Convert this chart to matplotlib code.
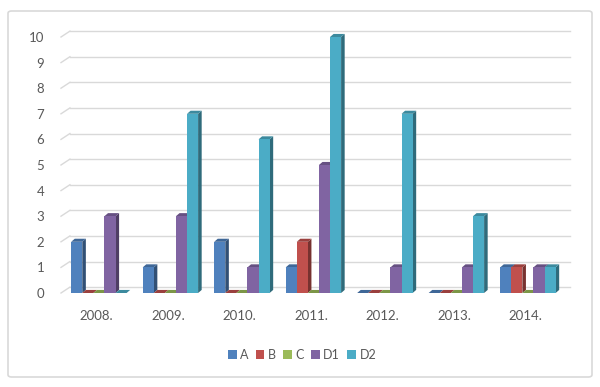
import matplotlib.pyplot as plt
import matplotlib.colors as mcolors
from matplotlib.patches import Polygon, FancyBboxPatch, Patch

# data
years = ['2008.', '2009.', '2010.', '2011.', '2012.', '2013.', '2014.']
series_names = ['A', 'B', 'C', 'D1', 'D2']
a_vals = [2, 1, 2, 1, 0, 0, 1]
b_vals = [0, 0, 0, 2, 0, 0, 1]
c_vals = [0, 0, 0, 0, 0, 0, 0]
d1_vals = [3, 3, 1, 5, 1, 1, 1]
d2_vals = [0, 7, 6, 10, 7, 3, 1]
yticks = list(range(0, 11))

all_vals = [a_vals, b_vals, c_vals, d1_vals, d2_vals]
colors = ['#4F81BD', '#C0504D', '#9BBB59', '#8064A2', '#4BACC6']

plt.rcParams['font.family'] = ['Lato', 'DejaVu Sans']
txt_col = '#595959'

fig = plt.figure(figsize=(6, 3.87), dpi=100)
ax = fig.add_axes([61 / 600, (387 - 293) / 387, 500.5 / 600, 256 / 387])

# border round the chart
fig.patches.append(FancyBboxPatch((8 / 600, 10 / 387), 584 / 600, 366 / 387,
                                  boxstyle='round,pad=0,rounding_size=0.006',
                                  transform=fig.transFigure, fill=False,
                                  edgecolor='#D9D9D9', linewidth=1.2))

# 3d offsets (data units)
gdx, gdy = 0.125, 0.23   # back wall
bdx, bdy = 0.05, 0.12    # bar depth
w = 0.155
shift = 0.03

x0, x1 = -0.5, len(years) - 0.5
# gridlines on back wall + side wall diagonals
for t in yticks:
    ax.plot([x0 + gdx, x1 + gdx], [t + gdy, t + gdy], color='#D9D9D9', lw=1.0,
            zorder=1, clip_on=False)
    ax.plot([x0, x0 + gdx], [t, t + gdy], color='#D9D9D9', lw=1.0,
            zorder=1, clip_on=False)


def shade(c, f):
    r, g, b = mcolors.to_rgb(c)
    return (r * f, g * f, b * f)


z = 2
for j in range(len(years)):
    for i, vals in enumerate(all_vals):
        v = vals[j]
        xc = j + (i - 2) * w + shift
        xl, xr = xc - w / 2, xc + w / 2
        col = colors[i]
        # side face
        ax.add_patch(Polygon([(xr, 0), (xr + bdx, bdy), (xr + bdx, v + bdy), (xr, v)],
                             closed=True, facecolor=shade(col, 0.62), edgecolor='none',
                             zorder=z, clip_on=False))
        # top face
        ax.add_patch(Polygon([(xl, v), (xl + bdx, v + bdy), (xr + bdx, v + bdy), (xr, v)],
                             closed=True, facecolor=shade(col, 0.8), edgecolor='none',
                             zorder=z, clip_on=False))
        # front face
        ax.bar(xc, v, width=w, color=col, edgecolor='none', zorder=z + 0.5)
        z += 1

ax.set_xlim(x0, x1)
ax.set_ylim(0, 10)
ax.set_yticks(yticks)
ax.set_xticks(range(len(years)))
ax.set_xticklabels(years)
for s in ax.spines.values():
    s.set_visible(False)
ax.tick_params(axis='both', length=0, labelsize=9.5, labelcolor=txt_col)
ax.tick_params(axis='y', pad=12)
ax.tick_params(axis='x', pad=12)
ax.patch.set_alpha(0)

handles = [Patch(facecolor=c, edgecolor='none') for c in colors]
fig.legend(handles, series_names, loc='center', bbox_to_anchor=(302 / 600, 1 - 355 / 387),
           ncol=5, frameon=False, handlelength=0.7, handleheight=0.7,
           handletextpad=0.3, columnspacing=0.55, fontsize=9, labelcolor=txt_col)

fig.savefig('out.png', dpi=100)
